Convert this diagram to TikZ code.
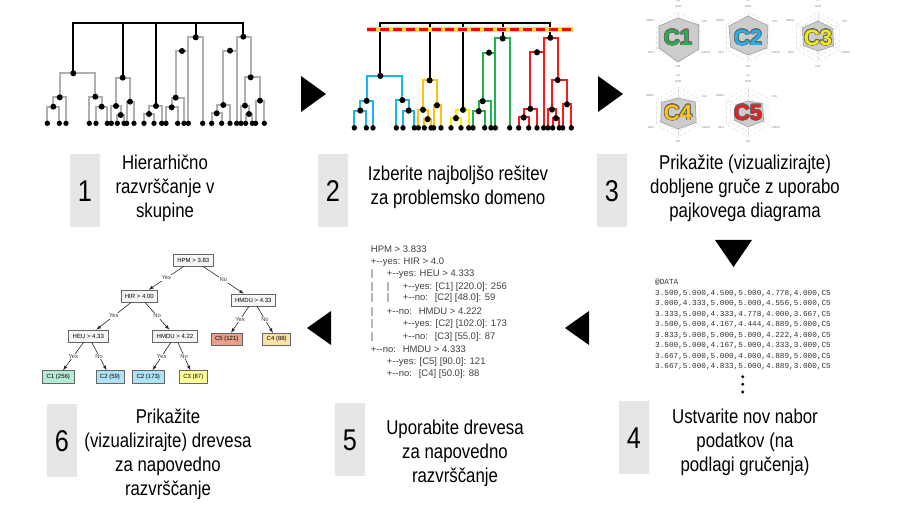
\documentclass[tikz,border=0pt]{standalone}
\usepackage{fontspec}
\setmainfont{Liberation Sans}
\setmonofont{Liberation Mono}
\newfontfamily\narrowfont{Liberation Sans}[FakeStretch=0.84]
\usepackage[copies]{contour}
\contourlength{0.7pt}

\definecolor{boxgray}{HTML}{E6E6E6}
\definecolor{lgray}{HTML}{B0B0B0}
\definecolor{txtgray}{HTML}{404040}
\definecolor{cblue}{HTML}{1CB5F0}
\definecolor{corange}{HTML}{FFC20E}
\definecolor{cyellow}{HTML}{F5EE00}
\definecolor{cgreen}{HTML}{22B14C}
\definecolor{cred}{HTML}{F21C1C}
\definecolor{leafgreen}{HTML}{B5EBD2}
\definecolor{leafblue}{HTML}{B0E2F6}
\definecolor{leafyellow}{HTML}{FFFF99}
\definecolor{leafred}{HTML}{E9A08D}
\definecolor{leaforange}{HTML}{FCE2A6}

% dendrogram, one colour per group
\newcommand{\dendro}[5]{%
 \draw[lnk,#1] (90,262) -- (90,190) -- (195,190) -- (195,260);
 \draw[lnk,#1] (70,290) -- (70,262) -- (108,262) -- (108,340);
 \draw[lnk,#1] (52,340) -- (52,290) -- (88,290) -- (88,340);
 \draw[lnk,#1] (178,340) -- (178,260) -- (215,260) -- (215,290);
 \draw[lnk,#1] (198,340) -- (198,290) -- (232,290) -- (232,340);
 %
 \draw[lnk,#2] (258,288) -- (258,203) -- (300,203) -- (300,275);
 \draw[lnk,#2] (244,340) -- (244,288) -- (272,288) -- (272,315);
 \draw[lnk,#2] (262,340) -- (262,315) -- (282,315) -- (282,340);
 \draw[lnk,#2] (290,340) -- (290,275) -- (312,275) -- (312,340);
 %
 \draw[lnk,#3] (357,312) -- (357,288) -- (395,288) -- (395,340);
 \draw[lnk,#3] (342,340) -- (342,312) -- (372,312) -- (372,340);
 %
 \draw[lnk,#4] (475,340) -- (475,82) -- (518,82) -- (518,340);
 \draw[lnk,#4] (437,263) -- (437,123) -- (475,123);
 \draw[lnk,#4] (425,292) -- (425,263) -- (462,263) -- (462,340);
 \draw[lnk,#4] (408,340) -- (408,292) -- (443,292) -- (443,340);
 %
 \draw[lnk,#5] (620,340) -- (620,80) -- (662,80) -- (662,202);
 \draw[lnk,#5] (580,285) -- (580,122) -- (620,122);
 \draw[lnk,#5] (560,310) -- (560,285) -- (600,285) -- (600,340);
 \draw[lnk,#5] (545,340) -- (545,310) -- (575,310) -- (575,340);
 \draw[lnk,#5] (645,287) -- (645,202) -- (690,202) -- (690,272);
 \draw[lnk,#5] (633,340) -- (633,287) -- (657,287) -- (657,312);
 \draw[lnk,#5] (647,340) -- (647,312) -- (667,312) -- (667,340);
 \draw[lnk,#5] (677,340) -- (677,272) -- (703,272) -- (703,340);
 %
 \draw[blk] (130,190) -- (130,38) -- (640,38) -- (640,80);
 \draw[blk] (278,38) -- (278,203);
 \draw[blk] (378,38) -- (378,288);
 \draw[blk] (497,38) -- (497,82);
 %
 \foreach \x/\y in {130/190,89/262,70/290,196/260,215/290,278/203,258/288,272/315,300/275,
   378/288,357/312,497/82,456/123,437/263,425/292,640/80,600/122,580/285,560/310,
   662/202,645/287,657/312,690/272}
   \fill (\x,\y) circle[radius=9];
 \foreach \x in {52,88,108,178,198,232,244,262,282,290,312,342,372,395,408,443,462,475,518,
   545,575,600,620,633,647,667,677,703}
   \fill (\x,340) circle[radius=8];
}

% spider chart of one group
\newcommand{\spider}[5]{%
 \begin{scope}[shift={#1}]
  \foreach \r in {5,10,15,20,25}
   \draw[sgrid] (-90:\r) -- (-30:\r) -- (30:\r) -- (90:\r) -- (150:\r) -- (210:\r) -- cycle;
  \foreach \a in {-90,-30,30,90,150,210} \draw[sgrid] (0,0) -- (\a:25);
  \filldraw[spoly] #5 -- cycle;
  \node[slab] (#3-hpm) at (-90:30) {HPM};
  \node[slab] (#3-hiu) at (-30:31) {HIU};
  \node[slab] (#3-hsmu) at (30:32) {HSMU};
  \node[slab] (#3-hir) at (90:30) {HIR};
  \node[slab] (#3-heu) at (150:31) {HEU};
  \node[slab] (#3-hmdu) at (210:32) {HMDU};
  \node[slab] (#3-title) at (0,-36) {#2};
  \node[cbig, text=#4] (#3-name) at (0,1) {\contour{black!60}{#3}};
 \end{scope}}

\newcommand{\tyes}{+-\kern0pt-yes: }
\newcommand{\tno}{+-\kern0pt-no:\hspace{0.72em}}
\newcommand{\tpipe}{\makebox[16pt][l]{|}}

\begin{document}
\begin{tikzpicture}[x=1pt, y=-1pt]
 \tikzstyle{lnk}=[line width=2pt]
 \tikzstyle{blk}=[line width=2.2pt, black]
 \tikzstyle{sgrid}=[gray!35, line width=0.3pt, densely dashed]
 \tikzstyle{spoly}=[fill=gray!40, draw=gray!75, line width=0.6pt]
 \tikzstyle{slab}=[font=\fontsize{2.8}{3}\selectfont, text=gray, inner sep=0pt]
 \tikzstyle{cbig}=[font=\fontsize{22}{22}\selectfont\bfseries, inner sep=0pt]
 \tikzstyle{numbox}=[fill=boxgray, minimum width=30pt, minimum height=73pt, inner sep=0pt,
   font=\narrowfont\fontsize{30}{30}\selectfont]
 \tikzstyle{steptxt}=[align=center, font=\narrowfont\fontsize{20}{24}\selectfont]
 \tikzstyle{split}=[draw=gray!80!black, fill=gray!8, line width=0.6pt, inner xsep=4pt,
   minimum height=12pt, font=\fontsize{6}{6}\selectfont]
 \tikzstyle{yn}=[font=\fontsize{5.8}{5.8}\selectfont, fill=white, inner sep=0.5pt, text=txtgray]
 \tikzstyle{edge}=[->, >=latex, line width=0.6pt, gray!30!black]
 \tikzstyle{outtxt}=[anchor=west, inner sep=0pt, text=txtgray, text height=7pt, text depth=2pt,
   font=\fontsize{9.5}{12}\selectfont]
 \tikzstyle{datatxt}=[anchor=west, inner sep=0pt, text=txtgray!80!black,
   font=\ttfamily\fontsize{7.7}{10}\selectfont]
 %
 \fill[white] (0,0) rectangle (900,510);
 \useasboundingbox (0,0) rectangle (900,510);
 %
 \begin{scope}[shift={(30,10)}, scale=1/3]
  \dendro{lgray}{lgray}{lgray}{lgray}{lgray}
 \end{scope}
 \begin{scope}[shift={(337,10)}, xscale=1/3, yscale=1.04/3]
  \dendro{cblue}{corange}{cyellow}{cgreen}{cred}
 \end{scope}
 \draw[yellow!90!orange, line width=5pt] (367,29.5) -- (573,29.5);
 \draw[red, line width=2.8pt, dash pattern=on 9pt off 4pt] (367,29.5) -- (573,29.5);
 %
 \spider{(678,37)}{(a)}{C1}{cgreen}{(-90:19) -- (-30:24) -- (30:24) -- (90:25) -- (150:22) -- (210:22)}
 \spider{(748,37)}{(b)}{C2}{cblue}{(-90:21) -- (-30:23) -- (30:22) -- (90:18) -- (150:20) -- (210:22)}
 \spider{(818,37)}{(c)}{C3}{cyellow}{(-90:16) -- (-30:17) -- (30:18) -- (90:14) -- (150:17) -- (210:18)}
 \spider{(678,112)}{(d)}{C4}{corange}{(-90:14) -- (-30:20) -- (30:21) -- (90:17) -- (150:20) -- (210:19)}
 \spider{(748,112)}{(e)}{C5}{cred}{(-90:11) -- (-30:17) -- (30:18) -- (90:15) -- (150:16) -- (210:14)}
 %
 \fill (301,76) -- (326,94) -- (301,112) -- cycle;
 \fill (598,76) -- (623,94) -- (598,112) -- cycle;
 \fill (715,240) -- (752,240) -- (733.5,267) -- cycle;
 \fill (589,311) -- (589,345) -- (565,328) -- cycle;
 \fill (331,311) -- (331,345) -- (307,328) -- cycle;
 %
 \node[numbox] (b1) at (85,191) {1};
 \node[steptxt] (s1) at (165,188) {Hierarhično\\razvrščanje v\\skupine};
 \node[numbox] (b2) at (333,191) {2};
 \node[steptxt] (s2) at (458,187) {Izberite najboljšo rešitev\\za problemsko domeno};
 \node[numbox] (b3) at (612,191) {3};
 \node[steptxt] (s3) at (745,188) {Prikažite (vizualizirajte)\\dobljene gruče z uporabo\\pajkovega diagrama};
 \node[numbox] (b6) at (62,441) {6};
 \node[steptxt] (s6) at (168,454) {Prikažite\\(vizualizirajte) drevesa\\za napovedno\\razvrščanje};
 \node[numbox] (b5) at (350,440) {5};
 \node[steptxt] (s5) at (455,453) {Uporabite drevesa\\za napovedno\\razvrščanje};
 \node[numbox] (b4) at (634,438) {4};
 \node[steptxt] (s4) at (745,442) {Ustvarite nov nabor\\podatkov (na\\podlagi gručenja)};
 %
 \node[datatxt] (d0) at (655,282.7) {@DATA};
 \node[datatxt] (d1) at (655,293.3) {3.500,5.000,4.500,5.000,4.778,4.000,C5};
 \node[datatxt] (d2) at (655,303.8) {3.000,4.333,5.000,5.000,4.556,5.000,C5};
 \node[datatxt] (d3) at (655,314.3) {3.333,5.000,4.333,4.778,4.000,3.667,C5};
 \node[datatxt] (d4) at (655,324.8) {3.500,5.000,4.167,4.444,4.889,5.000,C5};
 \node[datatxt] (d5) at (655,335.3) {3.833,5.000,5.000,5.000,4.222,4.000,C5};
 \node[datatxt] (d6) at (655,345.8) {3.500,5.000,4.167,5.000,4.333,3.000,C5};
 \node[datatxt] (d7) at (655,356.3) {3.667,5.000,5.000,4.000,4.889,5.000,C5};
 \node[datatxt] (d8) at (655,366.8) {3.667,5.000,4.833,5.000,4.889,3.000,C5};
 \foreach \y in {376.7,384.3,392} \fill (742.7,\y) circle[radius=1.6];
 %
 \node[outtxt] (o1) at (370.7,250) {HPM > 3.833};
 \node[outtxt] (o2) at (370.7,261.7) {\tyes HIR > 4.0};
 \node[outtxt] (o3) at (370.7,274.3) {\tpipe\tyes HEU > 4.333};
 \node[outtxt] (o4) at (370.7,286.7) {\tpipe\tpipe\tyes [C1] [220.0]: 256};
 \node[outtxt] (o5) at (370.7,298.3) {\tpipe\tpipe\tno [C2] [48.0]: 59};
 \node[outtxt] (o6) at (370.7,311.7) {\tpipe\tno HMDU > 4.222};
 \node[outtxt] (o7) at (370.7,324.3) {\tpipe\hspace{16pt}\tyes [C2] [102.0]: 173};
 \node[outtxt] (o8) at (370.7,336.7) {\tpipe\hspace{16pt}\tno [C3] [55.0]: 87};
 \node[outtxt] (o9) at (370.7,350) {\tno HMDU > 4.333};
 \node[outtxt] (o10) at (370.7,361.7) {\hspace{16pt}\tyes [C5] [90.0]: 121};
 \node[outtxt] (o11) at (370.7,374.3) {\hspace{16pt}\tno [C4] [50.0]: 88};
 %
 \node[split] (hpm) at (193.3,260) {HPM > 3.83};
 \node[split] (hir) at (139.3,296) {HIR > 4.00};
 \node[split] (hmdua) at (253.3,300) {HMDU > 4.33};
 \node[split] (heu) at (88.3,336) {HEU > 4.33};
 \node[split] (hmdub) at (175,336) {HMDU > 4.22};
 \node[split, fill=leafred] (c5) at (226.7,339.3) {C5 (121)};
 \node[split, fill=leaforange] (c4) at (276.7,339.3) {C4 (88)};
 \node[split, fill=leafgreen] (c1) at (58.3,376.7) {C1 (256)};
 \node[split, fill=leafblue] (c2a) at (110,376.7) {C2 (59)};
 \node[split, fill=leafblue] (c2b) at (148.3,376.7) {C2 (173)};
 \node[split, fill=leafyellow] (c3) at (193.3,376.7) {C3 (87)};
 %
 \draw[edge] (hpm) -- node[yn] {Yes} (hir);
 \draw[edge] (hpm) -- node[yn] {No} (hmdua);
 \draw[edge] (hir) -- node[yn] {Yes} (heu);
 \draw[edge] (hir) -- node[yn] {No} (hmdub);
 \draw[edge] (hmdua) -- node[yn] {Yes} (c5);
 \draw[edge] (hmdua) -- node[yn] {No} (c4);
 \draw[edge] (heu) -- node[yn] {Yes} (c1);
 \draw[edge] (heu) -- node[yn] {No} (c2a);
 \draw[edge] (hmdub) -- node[yn] {Yes} (c2b);
 \draw[edge] (hmdub) -- node[yn] {No} (c3);
\end{tikzpicture}
\end{document}
